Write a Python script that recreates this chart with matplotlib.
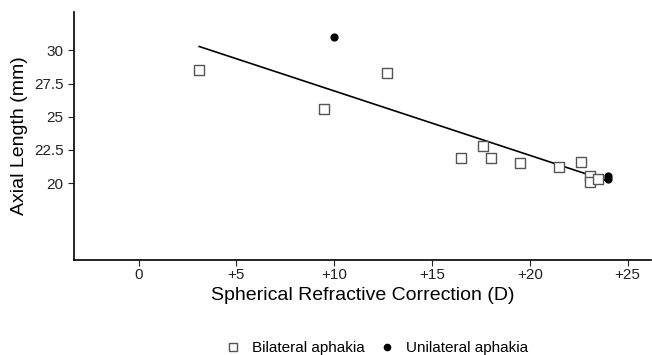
import matplotlib.pyplot as plt
from matplotlib.lines import Line2D

plt.rcParams['font.family'] = ['Liberation Sans', 'DejaVu Sans']

# bilateral aphakia (open squares)
bi_x = [3.1, 9.5, 12.7, 16.5, 17.6, 18.0, 19.5, 21.5, 22.6, 23.1, 23.1, 23.5]
bi_y = [28.5, 25.6, 28.3, 21.9, 22.8, 21.9, 21.5, 21.2, 21.6, 20.5, 20.1, 20.3]

# unilateral aphakia (filled dots)
uni_x = [10.0, 24.0, 24.0]
uni_y = [31.05, 20.3, 20.5]

# fitted line
fit_x = [3.1, 23.9]
fit_y = [30.3, 20.2]

xticks = [0, 5, 10, 15, 20, 25]
xtick_labels = ['0', '+5', '+10', '+15', '+20', '+25']
yticks = [20, 22.5, 25, 27.5, 30]
ytick_labels = ['20', '22.5', '25', '27.5', '30']

fig = plt.figure(figsize=(6.52, 3.55), dpi=100)
ax = fig.add_axes([74/652, 1 - 260/355, (651-74)/652, (260-12)/355])

ax.plot(fit_x, fit_y, color='black', lw=1.2, zorder=2)
ax.scatter(bi_x, bi_y, marker='s', s=48, facecolors='white', edgecolors='#555555',
           linewidths=1.0, zorder=3)
ax.scatter(uni_x, uni_y, marker='o', s=24, color='black', zorder=4)

ax.set_xlim(-3.3, 26.2)
ax.set_ylim(14.2, 32.9)
ax.set_xticks(xticks)
ax.set_xticklabels(xtick_labels)
ax.set_yticks(yticks)
ax.set_yticklabels(ytick_labels)
ax.tick_params(labelsize=11, length=4, colors='#222222', labelcolor='#222222')
ax.tick_params(axis='x', pad=2)

for s in ['top', 'right']:
    ax.spines[s].set_visible(False)
for s in ['left', 'bottom']:
    ax.spines[s].set_linewidth(1.2)

ax.set_xlabel('Spherical Refractive Correction (D)', fontsize=14, labelpad=3)
ax.set_ylabel('Axial Length (mm)', fontsize=14, labelpad=4)

handles = [
    Line2D([], [], marker='s', linestyle='none', markersize=6,
           markerfacecolor='white', markeredgecolor='#555555', label='Bilateral aphakia'),
    Line2D([], [], marker='o', linestyle='none', markersize=4.5,
           color='black', label='Unilateral aphakia'),
]
fig.legend(handles=handles, loc='center', bbox_to_anchor=(0.572, 0.02), ncol=2,
           frameon=False, fontsize=11, handletextpad=0.3, columnspacing=0.4)

fig.savefig('out.png', dpi=100)
